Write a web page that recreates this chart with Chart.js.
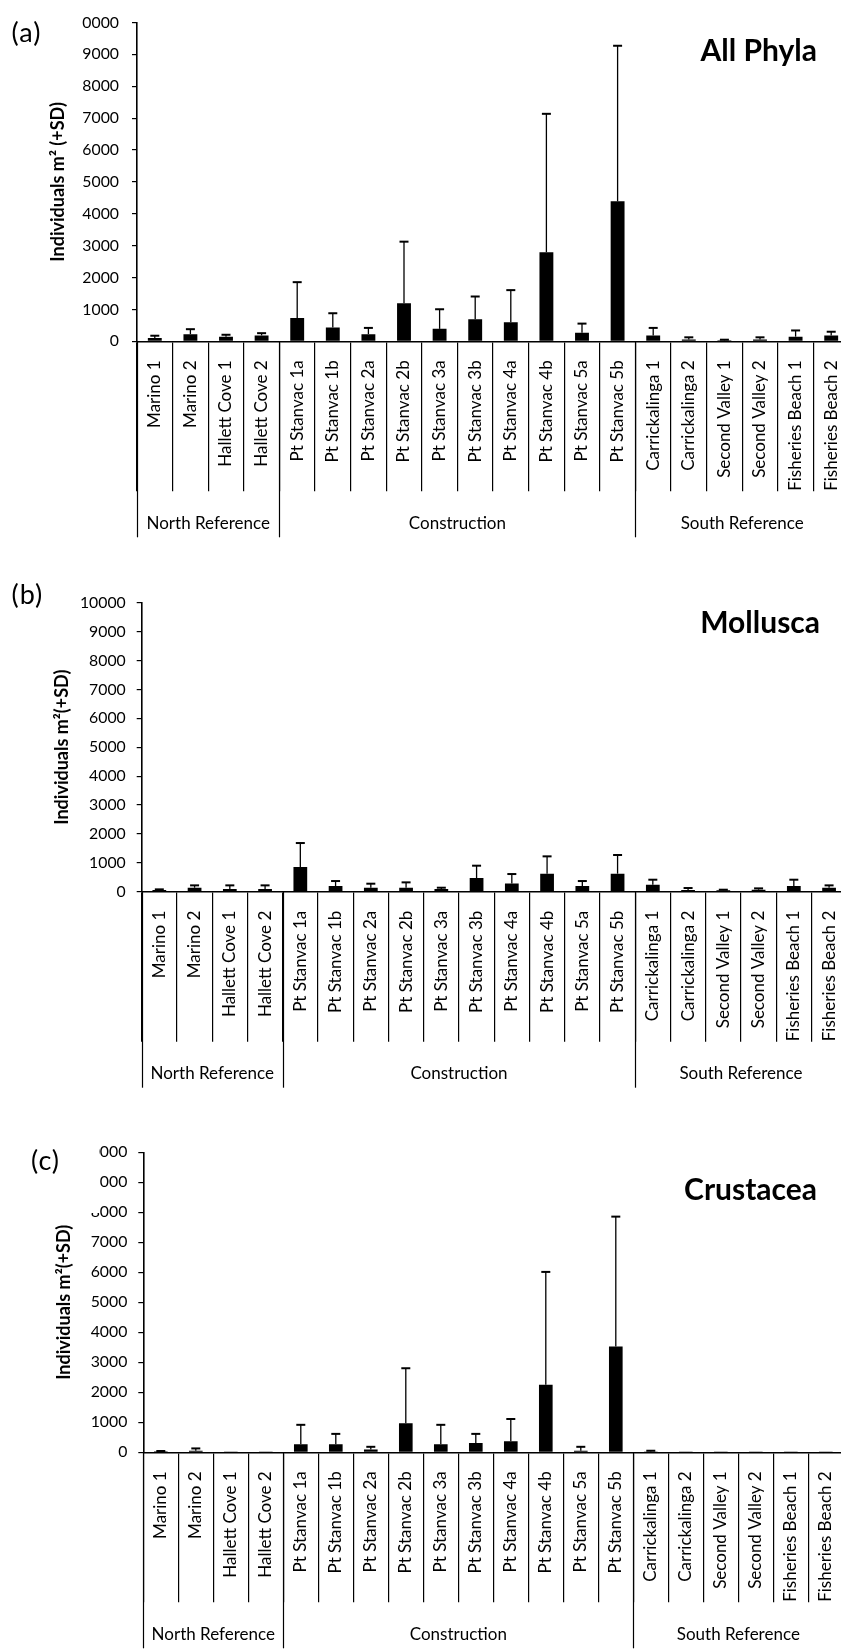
<!DOCTYPE html>
<html>
<head>
<meta charset="utf-8">
<title>Infauna abundance by site</title>
<script src="https://cdn.jsdelivr.net/npm/chart.js@4.4.1/dist/chart.umd.min.js"></script>
<style>
  html, body { margin: 0; padding: 0; background: #fff; }
  body { width: 841px; height: 1652px; overflow: hidden; position: relative; }
  canvas { position: absolute; left: 0; }
</style>
</head>
<body>
<canvas id="allChart" width="860" height="545" style="top:0px"></canvas>
<canvas id="molChart" width="860" height="535" style="top:560px"></canvas>
<canvas id="cruChart" width="860" height="542" style="top:1110px"></canvas>
<script>
// sites, in survey order
const sites = [
    "Marino 1", "Marino 2", "Hallett Cove 1", "Hallett Cove 2",
    "Pt Stanvac 1a", "Pt Stanvac 1b", "Pt Stanvac 2a", "Pt Stanvac 2b",
    "Pt Stanvac 3a", "Pt Stanvac 3b", "Pt Stanvac 4a", "Pt Stanvac 4b",
    "Pt Stanvac 5a", "Pt Stanvac 5b",
    "Carrickalinga 1", "Carrickalinga 2", "Second Valley 1", "Second Valley 2",
    "Fisheries Beach 1", "Fisheries Beach 2"
];
const groupNames = ["North Reference", "Construction", "South Reference"];
const groupSizes = [4, 10, 6];

// mean individuals per m2 and standard deviation
const allMean = [100, 225, 145, 185, 730, 430, 225, 1190, 390, 690, 600, 2795, 265, 4390, 185, 60, 30, 60, 145, 185];
const allSD   = [75, 155, 60, 70, 1125, 450, 195, 1935, 615, 715, 1005, 4340, 290, 4880, 235, 65, 20, 65, 195, 115];

const molMean = [58, 138, 92, 92, 854, 196, 138, 138, 92, 473, 288, 623, 196, 623, 242, 58, 46, 69, 196, 138];
const molSD   = [23, 81, 127, 127, 830, 173, 139, 185, 46, 427, 323, 600, 173, 646, 173, 69, 23, 46, 219, 81];

const cruMean = [32, 54, 4, 30, 269, 269, 97, 970, 269, 312, 366, 2252, 54, 3524, 30, 3, 3, 30, 3, 3];
const cruSD   = [11, 75, 0, 0, 647, 345, 86, 1832, 647, 302, 744, 3761, 129, 4332, 22, 0, 0, 0, 0, 0];

const yMax = 10000;
const yStep = 1000;

const FONT = "Lato";

// vertical +SD whiskers on top of every bar
const errorBars = {
    id: "errorBars",
    afterDatasetsDraw(chart, args, opts) {
        const ctx = chart.ctx;
        const y = chart.scales.y;
        const vals = chart.data.datasets[0].data;
        chart.getDatasetMeta(0).data.forEach((bar, i) => {
            const sd = opts.sd[i];
            if (!sd) return;
            const top = y.getPixelForValue(vals[i] + sd);
            ctx.save();
            ctx.strokeStyle = "#000";
            ctx.lineWidth = 1.3;
            ctx.beginPath();
            ctx.moveTo(bar.x, bar.y);
            ctx.lineTo(bar.x, top);
            ctx.stroke();
            ctx.lineWidth = 2;
            ctx.beginPath();
            ctx.moveTo(bar.x - 4.5, top);
            ctx.lineTo(bar.x + 4.5, top);
            ctx.stroke();
            ctx.restore();
        });
    }
};

// second row of the category axis: site groups
const siteGroups = {
    id: "siteGroups",
    afterDraw(chart) {
        const ctx = chart.ctx;
        const x = chart.scales.x;
        const half = (x.getPixelForValue(1) - x.getPixelForValue(0)) / 2;
        const edge = k => k < sites.length ? x.getPixelForValue(k) - half : x.getPixelForValue(sites.length - 1) + half;
        ctx.save();
        ctx.strokeStyle = "#000";
        ctx.lineWidth = 1.2;
        ctx.fillStyle = "#000";
        ctx.font = "17px " + FONT;
        ctx.textAlign = "center";
        ctx.textBaseline = "middle";
        let k = 0;
        const cuts = [0];
        groupSizes.forEach(n => { k += n; cuts.push(k); });
        cuts.forEach(c => {
            const px = Math.round(edge(c)) + 0.5;
            ctx.beginPath();
            ctx.moveTo(px, x.top);
            ctx.lineTo(px, x.top + 196);
            ctx.stroke();
        });
        groupNames.forEach((name, g) => {
            const cx = (edge(cuts[g]) + edge(cuts[g + 1])) / 2;
            ctx.fillText(name, cx, x.top + 182);
        });
        ctx.restore();
    }
};

// panel letter (on a white box) and taxon heading
const panelText = {
    id: "panelText",
    afterDraw(chart, args, o) {
        const ctx = chart.ctx;
        ctx.save();
        ctx.fillStyle = "#fff";
        ctx.fillRect(o.box[0], o.box[1], o.box[2], o.box[3]);
        ctx.fillStyle = "#000";
        ctx.textBaseline = "alphabetic";
        ctx.textAlign = "left";
        ctx.font = "27px " + FONT;
        ctx.letterSpacing = "1px";
        ctx.fillText(o.letter, o.letterAt[0], o.letterAt[1]);
        ctx.letterSpacing = "0px";
        ctx.textAlign = "right";
        ctx.font = "bold 30px " + FONT;
        ctx.fillText(o.title, o.titleAt[0], o.titleAt[1]);
        ctx.restore();
    }
};

function makePanel(id, means, sds, cfg) {
    return new Chart(document.getElementById(id), {
        type: "bar",
        data: {
            labels: sites,
            datasets: [{
                data: means,
                backgroundColor: "#000",
                borderWidth: 0,
                barPercentage: 0.39,
                categoryPercentage: 1
            }]
        },
        options: {
            responsive: false,
            animation: false,
            events: [],
            layout: { padding: { top: cfg.top, bottom: 0, left: 0, right: cfg.right } },
            plugins: {
                legend: { display: false },
                tooltip: { enabled: false },
                errorBars: { sd: sds },
                panelText: cfg.text
            },
            scales: {
                x: {
                    offset: true,
                    grid: { offset: true, drawOnChartArea: false, tickLength: 150, color: "#000", lineWidth: 1.2 },
                    border: { color: "#000", width: 1.6 },
                    ticks: {
                        autoSkip: false, minRotation: 90, maxRotation: 90, padding: -131,
                        color: "#000", font: { family: FONT, size: 17 }
                    },
                    afterFit: s => { s.height = cfg.xHeight; }
                },
                y: {
                    min: 0, max: yMax,
                    grid: { drawOnChartArea: false, tickLength: 5, color: "#000", lineWidth: 1.2 },
                    border: { color: "#000", width: 1.6 },
                    ticks: {
                        stepSize: yStep, padding: cfg.tickPad, color: "#000",
                        font: { family: FONT, size: 15.8 },
                        callback: v => String(v)
                    },
                    title: {
                        display: true, text: cfg.yTitle, color: "#000",
                        font: { family: FONT, size: 18, weight: "bold" },
                        padding: { top: cfg.titlePad, bottom: 0 }
                    },
                    afterFit: s => { s.width = cfg.yWidth; }
                }
            }
        },
        plugins: [errorBars, siteGroups, panelText]
    });
}

makePanel("allChart", allMean, allSD, {
    top: 15.7, right: 11, xHeight: 203.7, yWidth: 137, tickPad: 13, titlePad: 47.7,
    yTitle: "Individuals m\u00b2 (+SD)",
    text: { box: [0, 0, 82, 55], letter: "(a)", letterAt: [11.5, 42], title: "All Phyla", titleAt: [817, 61] }
});

makePanel("molChart", molMean, molSD, {
    top: 42.7, right: 13.3, xHeight: 203.3, yWidth: 141.7, tickPad: 11, titlePad: 51.7,
    yTitle: "Individuals m\u00b2(+SD)",
    text: { box: [0, 0, 0, 0], letter: "(b)", letterAt: [11.5, 44], title: "Mollusca", titleAt: [820, 73] }
});

makePanel("cruChart", cruMean, cruSD, {
    top: 42.3, right: 16.7, xHeight: 199.7, yWidth: 143.3, tickPad: 11, titlePad: 53.2,
    yTitle: "Individuals m\u00b2(+SD)",
    text: { box: [0, 10, 99, 93], letter: "(c)", letterAt: [31, 60], title: "Crustacea", titleAt: [817, 90] }
});
</script>
</body>
</html>
